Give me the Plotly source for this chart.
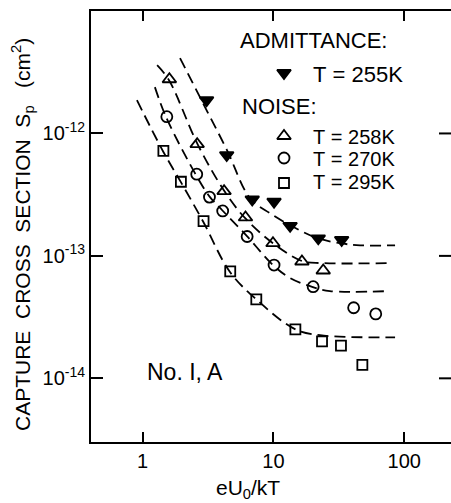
import plotly.graph_objects as go
import math

# ---- measured capture cross sections ----
x_adm_255 = [3.08, 4.39, 6.88, 10.1, 13.4, 22.0, 33.2]
s_adm_255 = [1.87e-12, 6.65e-13, 2.89e-13, 2.77e-13, 1.76e-13, 1.39e-13, 1.35e-13]

x_noise_258 = [1.60, 2.61, 4.19, 6.11, 9.91, 16.5, 24.0]
s_noise_258 = [2.77e-12, 8.18e-13, 3.38e-13, 2.06e-13, 1.27e-13, 9.0e-14, 7.6e-14]

x_noise_270 = [1.53, 2.59, 3.24, 4.09, 6.29, 10.1, 20.1, 41.0, 60.5]
s_noise_270 = [1.37e-12, 4.65e-13, 3.02e-13, 2.33e-13, 1.44e-13, 8.41e-14, 5.6e-14, 3.77e-14, 3.36e-14]

x_noise_295 = [1.44, 1.96, 2.92, 4.67, 7.39, 14.7, 23.5, 32.8, 47.8]
s_noise_295 = [7.21e-13, 4.03e-13, 1.92e-13, 7.46e-14, 4.42e-14, 2.51e-14, 2.0e-14, 1.85e-14, 1.29e-14]

# ---- fitted curves (dashed) ----
fit_x_255 = [1.93, 2.89, 4.41, 6.61, 9.40, 13.4, 21.5, 32.3, 45.9, 85.0]
fit_s_255 = [4.12e-12, 1.77e-12, 7.31e-13, 2.96e-13, 2.23e-13, 1.78e-13, 1.40e-13, 1.27e-13, 1.22e-13, 1.22e-13]

fit_x_258 = [1.29, 1.59, 2.65, 4.26, 6.05, 9.91, 16.5, 23.5, 75.0]
fit_s_258 = [3.61e-12, 2.72e-12, 8.03e-13, 3.32e-13, 2.04e-13, 1.27e-13, 9.08e-14, 8.73e-14, 8.73e-14]

fit_x_270 = [1.24, 1.51, 2.51, 3.27, 4.04, 6.27, 9.91, 13.4, 20.0, 27.0, 76.0]
fit_s_270 = [2.39e-12, 1.36e-12, 4.74e-13, 3.02e-13, 2.37e-13, 1.45e-13, 8.41e-14, 6.59e-14, 5.56e-14, 5.16e-14, 5.16e-14]

fit_x_295 = [0.904, 1.43, 1.96, 2.89, 4.65, 7.35, 14.6, 22.7, 85.0]
fit_s_295 = [1.87e-12, 7.16e-13, 4.00e-13, 1.92e-13, 7.38e-14, 4.44e-14, 2.52e-14, 2.25e-14, 2.16e-14]

# ---- axes ----
x_ticks = [1, 10, 100]
x_ticktext = ["1", "10", "100"]
y_ticks = [1e-14, 1e-13, 1e-12]
y_ticktext = ["10<sup>-14</sup>", "10<sup>-13</sup>", "10<sup>-12</sup>"]
x_range_log = [-0.395, 2.357]
y_range_log = [-14.52, -11.0]

# ---- legend entries ----
legend_labels = ["T = 255K", "T = 258K", "T = 270K", "T = 295K"]

FONT = "Liberation Sans, Arial, sans-serif"
INK = "black"

W, H = 451, 503
ML, MR, MT, MB = 91, 0, 11, 61
PW, PH = W - ML - MR, H - MT - MB


def px_x(p):
    return (p - ML) / PW


def px_y(p):
    return (H - MB - p) / PH


fig = go.Figure()

dash = "11px,6px"
for fx, fs in [(fit_x_255, fit_s_255), (fit_x_258, fit_s_258),
               (fit_x_270, fit_s_270), (fit_x_295, fit_s_295)]:
    fig.add_trace(go.Scatter(
        x=fx, y=fs, mode="lines",
        line=dict(color=INK, width=1.8, dash=dash, shape="spline", smoothing=1.0),
        showlegend=False, hoverinfo="skip"))

series = [
    (x_adm_255, s_adm_255, "triangle-down", 12),
    (x_noise_258, s_noise_258, "triangle-up-open", 12),
    (x_noise_270, s_noise_270, "circle-open", 11),
    (x_noise_295, s_noise_295, "square-open", 10),
]
for (sx, sy, sym, size), name in zip(series, legend_labels):
    fig.add_trace(go.Scatter(
        x=sx, y=sy, mode="markers", name=name,
        marker=dict(symbol=sym, size=size, color=INK,
                    line=dict(color=INK, width=1.8)),
        showlegend=False))

# legend keys drawn on an overlay axis spanning the plot area
key_x = px_x(284)
key_y = [px_y(73), px_y(136), px_y(158), px_y(183)]
for (sx, sy, sym, size), ky in zip(series, key_y):
    fig.add_trace(go.Scatter(
        x=[key_x], y=[ky], mode="markers", xaxis="x2", yaxis="y2",
        marker=dict(symbol=sym, size=size, color=INK,
                    line=dict(color=INK, width=1.8)),
        showlegend=False, hoverinfo="skip"))

annotations = []


def text(x, y, s, size=22, xanchor="left", angle=0):
    annotations.append(dict(
        xref="paper", yref="paper", x=x, y=y, text=s, showarrow=False,
        xanchor=xanchor, yanchor="middle", textangle=angle,
        font=dict(family=FONT, size=size, color=INK)))


text(px_x(238), px_y(41), "ADMITTANCE:")
text(px_x(240), px_y(106), "NOISE:")
text(px_x(311), px_y(74), legend_labels[0].replace(" = ", "\u00a0=\u00a0"))
for lbl, y in zip(legend_labels[1:], [136.5, 159, 182.5]):
    text(px_x(311), px_y(y), lbl.replace(" = ", "\u00a0=\u00a0"), size=20)
text(px_x(145), px_y(372), "No. I, A", size=23)

nb = "\u00a0"
ytitle = ("CAPTURE" + nb * 2 + "CROSS" + nb * 2 + "SECTION" + nb * 2 +
          "S<sub>p</sub>" + nb * 3 + "(cm<sup>2</sup>)")
text(px_x(22), px_y(235), ytitle, size=21, xanchor="center", angle=-90)
text(px_x(248), px_y(489), "eU<sub>0</sub>/kT", size=21, xanchor="center")

# inward ticks on the right-hand side
shapes = []
for v in y_ticks:
    yp = (math.log10(v) - y_range_log[0]) / (y_range_log[1] - y_range_log[0])
    shapes.append(dict(type="line", xref="paper", yref="paper",
                       x0=1 - 12 / PW, x1=1.0, y0=yp, y1=yp,
                       line=dict(color=INK, width=2)))

fig.update_layout(
    width=W, height=H,
    margin=dict(l=ML, r=MR, t=MT, b=MB),
    paper_bgcolor="white", plot_bgcolor="white",
    font=dict(family=FONT, size=20, color=INK),
    showlegend=False,
    annotations=annotations,
    shapes=shapes,
    xaxis=dict(type="log", range=x_range_log, tickvals=x_ticks, ticktext=x_ticktext,
               ticks="inside", ticklen=10, tickwidth=2, tickcolor=INK,
               showline=True, linewidth=2, linecolor=INK, mirror="ticks",
               showgrid=False, zeroline=False,
               tickfont=dict(family=FONT, size=20, color=INK)),
    yaxis=dict(type="log", range=y_range_log, tickvals=y_ticks, ticktext=y_ticktext,
               ticks="inside", ticklen=12, tickwidth=2, tickcolor=INK,
               showline=True, linewidth=2, linecolor=INK, mirror=False,
               showgrid=False, zeroline=False,
               tickfont=dict(family=FONT, size=20, color=INK)),
    xaxis2=dict(overlaying="x", range=[0, 1], visible=False),
    yaxis2=dict(overlaying="y", range=[0, 1], visible=False),
)

fig.write_html("out.html")
